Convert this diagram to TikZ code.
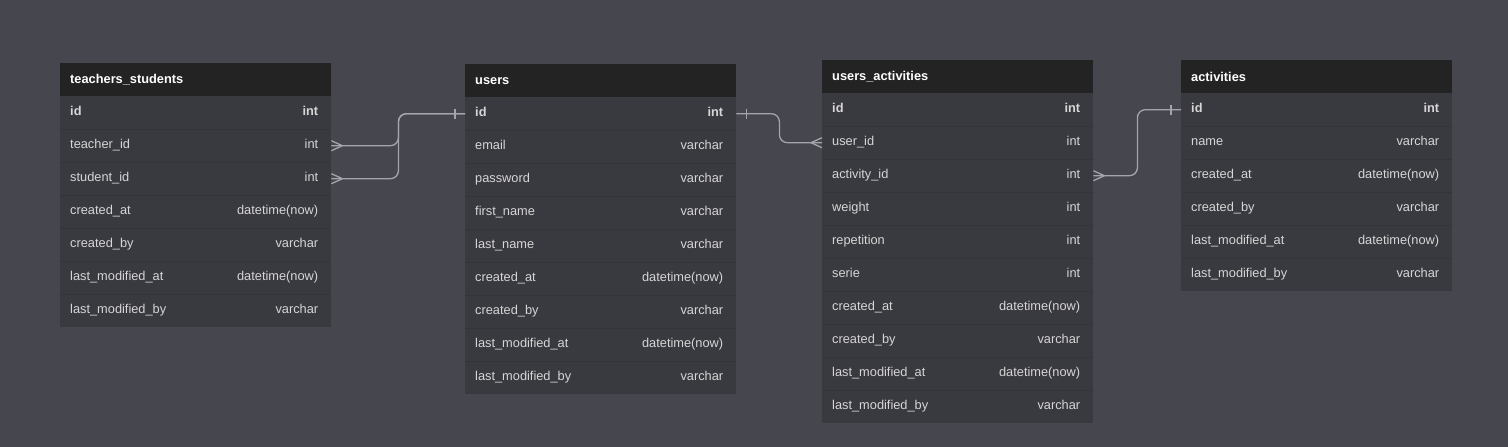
\documentclass[tikz,border=0pt]{standalone}
\usepackage{fontspec}
\setmainfont{Liberation Sans}
\usepackage{xcolor}
\usepackage{tikz}
\usetikzlibrary{positioning}

\definecolor{sfondo}{HTML}{46464E}
\definecolor{testata}{HTML}{232323}
\definecolor{corpo}{HTML}{393940}
\definecolor{separa}{HTML}{34343A}
\definecolor{testo}{HTML}{D6D6D6}
\definecolor{linea}{HTML}{A4A4AC}

\begin{document}
\begin{tikzpicture}[x=1pt, y=-1pt,
  font=\fontsize{12.8}{15}\selectfont,
  testa/.style={anchor=north west, fill=testata, text=white, font=\fontsize{12.8}{15}\selectfont\bfseries,
    text width=251pt, inner xsep=10pt, inner ysep=0pt, minimum height=33pt, align=left},
  riga/.style={anchor=north west, fill=corpo, minimum width=271pt, minimum height=33pt, inner sep=0pt},
  campo/.style={inner sep=0pt, text=testo, text height=9pt, text depth=3pt},
  sep/.style={draw=separa, line width=0.8pt},
  rel/.style={draw=linea, line width=1.3pt},
  curva/.style={rel, rounded corners=8pt}]

  % Sfondo e margini
  \fill[sfondo] (0,0) rectangle (1508,447);
  \useasboundingbox (0,0) rectangle (1508,447);

  % Tabella teachers_students
  \node[testa] (ts) at (60,63) {teachers\_students};
  \foreach \c/\t [count=\i] in {id/int, teacher\_id/int, student\_id/int,
      created\_at/datetime(now), created\_by/varchar,
      last\_modified\_at/datetime(now), last\_modified\_by/varchar} {
    \node[riga] (ts-\i) at (60,{63+33*\i}) {};
    \ifnum\i>1 \draw[sep] (ts-\i.north west) -- (ts-\i.north east); \fi
    \node[campo, anchor=west, right=10pt of ts-\i.west] (ts-\i-c) {\ifnum\i=1\bfseries\fi\c};
    \node[campo, anchor=east, left=13pt of ts-\i.east] (ts-\i-t) {\ifnum\i=1\bfseries\fi\t};
  }

  % Tabella users
  \node[testa] (us) at (465,64) {users};
  \foreach \c/\t [count=\i] in {id/int, email/varchar, password/varchar,
      first\_name/varchar, last\_name/varchar, created\_at/datetime(now),
      created\_by/varchar, last\_modified\_at/datetime(now), last\_modified\_by/varchar} {
    \node[riga] (us-\i) at (465,{64+33*\i}) {};
    \ifnum\i>1 \draw[sep] (us-\i.north west) -- (us-\i.north east); \fi
    \node[campo, anchor=west, right=10pt of us-\i.west] (us-\i-c) {\ifnum\i=1\bfseries\fi\c};
    \node[campo, anchor=east, left=13pt of us-\i.east] (us-\i-t) {\ifnum\i=1\bfseries\fi\t};
  }

  % Tabella users_activities
  \node[testa] (ua) at (822,60) {users\_activities};
  \foreach \c/\t [count=\i] in {id/int, user\_id/int, activity\_id/int,
      weight/int, repetition/int, serie/int, created\_at/datetime(now),
      created\_by/varchar, last\_modified\_at/datetime(now), last\_modified\_by/varchar} {
    \node[riga] (ua-\i) at (822,{60+33*\i}) {};
    \ifnum\i>1 \draw[sep] (ua-\i.north west) -- (ua-\i.north east); \fi
    \node[campo, anchor=west, right=10pt of ua-\i.west] (ua-\i-c) {\ifnum\i=1\bfseries\fi\c};
    \node[campo, anchor=east, left=13pt of ua-\i.east] (ua-\i-t) {\ifnum\i=1\bfseries\fi\t};
  }

  % Tabella activities
  \node[testa] (ac) at (1181,60) {activities};
  \foreach \c/\t [count=\i] in {id/int, name/varchar, created\_at/datetime(now),
      created\_by/varchar, last\_modified\_at/datetime(now), last\_modified\_by/varchar} {
    \node[riga] (ac-\i) at (1181,{60+33*\i}) {};
    \ifnum\i>1 \draw[sep] (ac-\i.north west) -- (ac-\i.north east); \fi
    \node[campo, anchor=west, right=10pt of ac-\i.west] (ac-\i-c) {\ifnum\i=1\bfseries\fi\c};
    \node[campo, anchor=east, left=13pt of ac-\i.east] (ac-\i-t) {\ifnum\i=1\bfseries\fi\t};
  }

  % Relazioni
  \draw[curva] (ts-2.east) -- ++(67,0) |- (us-1.west);
  \draw[curva] (ts-3.east) -- ++(67,0) |- (us-1.west);
  \draw[curva] (us-1.east) -- ++(43,0) |- (ua-2.west);
  \draw[curva] (ua-3.east) -- ++(44,0) |- (ac-1.west);

  % Estremi: uno (barra) e molti (zampa di gallina)
  \draw[rel] (us-1.west) ++(-10,-5) -- ++(0,10);
  \draw[rel] (us-1.east) ++(10,-5) -- ++(0,10);
  \draw[rel] (ac-1.west) ++(-10,-5) -- ++(0,10);
  \draw[rel] (ts-2.east) ++(11,0) -- ++(-11,-5) ++(11,5) -- ++(-11,5);
  \draw[rel] (ts-3.east) ++(11,0) -- ++(-11,-5) ++(11,5) -- ++(-11,5);
  \draw[rel] (ua-3.east) ++(11,0) -- ++(-11,-5) ++(11,5) -- ++(-11,5);
  \draw[rel] (ua-2.west) ++(-11,0) -- ++(11,-5) ++(-11,5) -- ++(11,5);
\end{tikzpicture}
\end{document}
